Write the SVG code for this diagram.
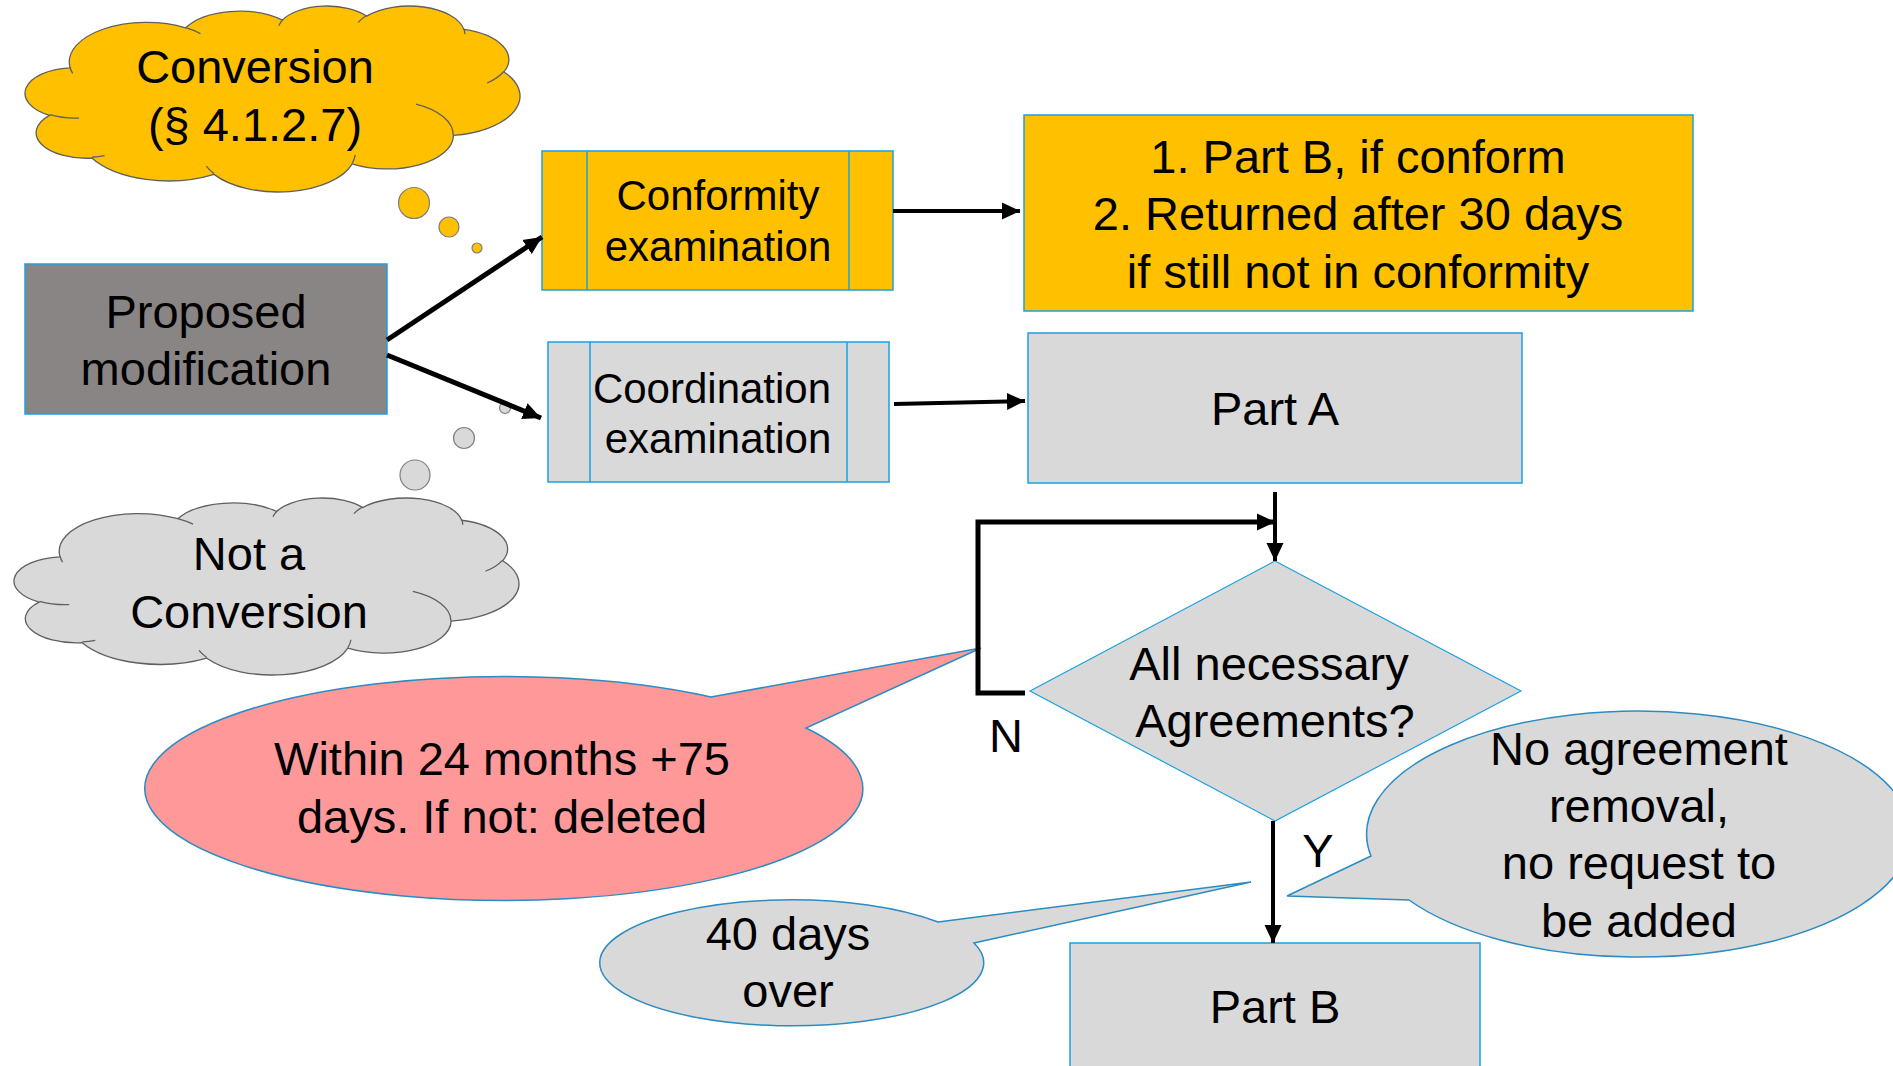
<svg xmlns="http://www.w3.org/2000/svg" width="1893" height="1066" viewBox="0 0 1893 1066">
<defs>
<style>
text{font-family:"Liberation Sans",Arial,sans-serif;fill:#000;text-anchor:middle}
.t47{font-size:47px}
.t42{font-size:42px}
.box{stroke:#1BA1E2;stroke-width:1.5}
.yel{fill:#FFC000}
.gry{fill:#D9D9D9}
.call{stroke:#2B8CC4;stroke-width:1.5}
.cloud{stroke:#5f5f5f;stroke-width:1.3;vector-effect:non-scaling-stroke}
.inner{fill:none;stroke:#5f5f5f;stroke-width:1.3;vector-effect:non-scaling-stroke}
.dot{stroke:#7f7f7f;stroke-width:1.2}
.conn{fill:none;stroke:#000;stroke-linejoin:miter}
</style>
<marker id="ah" markerUnits="userSpaceOnUse" markerWidth="18" markerHeight="18" viewBox="0 0 18 18" refX="18" refY="9" orient="auto">
<path d="M0,0.5 L18,9 L0,17.5 Z" fill="#000"/>
</marker>
</defs>
<rect width="1893" height="1066" fill="#fff"/>

<g id="cloud-conversion">
<g transform="translate(25.389,5.397) scale(0.011444,0.004304)">
<path class="cloud yel" d="M3900,14370 A6753,9190 0 0 1 14004.5,5201.8 A5333,7267 0 0 1 22455.2,3431.8 A4365,5945 0 0 1 29832.3,2480.5 A4857,6595 0 0 1 38318,5574.8 A5333,7273 0 0 1 41818.5,15458.7 A6775,9220 0 0 1 37404.7,30201.9 A5785,7867 0 0 1 28555.9,36811.7 A6752,9215 0 0 1 16480.8,39262.9 A7720,10543 0 0 1 5805.9,35466.1 A4360,5918 0 0 1 2114.4,25544.7 A4345,5945 0 0 1 3864.9,14501.6 Z"/>
<path class="inner" d="M4693,26177 A4345,5945 0 0 1 2159,25380 M6928,34899 A4360,5918 0 0 1 5819,35281 M16478,39090 A6752,9215 0 0 1 15810,37350 M28827,34751 A6752,9215 0 0 1 28560,36661 M34129,22954 A5785,7867 0 0 1 37381,30090 M41798,15354 A5333,7273 0 0 1 40350,18030 M38324,5426 A4857,6595 0 0 1 38400,6690 M29078,3952 A4857,6595 0 0 1 29819,2341 M22141,4720 A4365,5945 0 0 1 22500,3330 M14000,5192 A6753,9190 0 0 1 15300,6540 M4127,15789 A6753,9190 0 0 1 3900,14371"/>
</g>
<circle class="dot yel" cx="414" cy="203" r="15.5"/>
<circle class="dot yel" cx="449" cy="227" r="10"/>
<circle class="dot yel" cx="477" cy="248" r="5"/>
<text class="t47" x="255" y="83">Conversion</text>
<text class="t47" x="255" y="141">(§ 4.1.2.7)</text>
</g>

<g id="cloud-not-conversion">
<g transform="translate(14.397,497.427) scale(0.011675,0.0040957)">
<path class="cloud gry" d="M3900,14370 A6753,9190 0 0 1 14004.5,5201.8 A5333,7267 0 0 1 22455.2,3431.8 A4365,5945 0 0 1 29832.3,2480.5 A4857,6595 0 0 1 38318,5574.8 A5333,7273 0 0 1 41818.5,15458.7 A6775,9220 0 0 1 37404.7,30201.9 A5785,7867 0 0 1 28555.9,36811.7 A6752,9215 0 0 1 16480.8,39262.9 A7720,10543 0 0 1 5805.9,35466.1 A4360,5918 0 0 1 2114.4,25544.7 A4345,5945 0 0 1 3864.9,14501.6 Z"/>
<path class="inner" d="M4693,26177 A4345,5945 0 0 1 2159,25380 M6928,34899 A4360,5918 0 0 1 5819,35281 M16478,39090 A6752,9215 0 0 1 15810,37350 M28827,34751 A6752,9215 0 0 1 28560,36661 M34129,22954 A5785,7867 0 0 1 37381,30090 M41798,15354 A5333,7273 0 0 1 40350,18030 M38324,5426 A4857,6595 0 0 1 38400,6690 M29078,3952 A4857,6595 0 0 1 29819,2341 M22141,4720 A4365,5945 0 0 1 22500,3330 M14000,5192 A6753,9190 0 0 1 15300,6540 M4127,15789 A6753,9190 0 0 1 3900,14371"/>
</g>
<circle class="dot gry" cx="505" cy="408" r="5.5"/>
<circle class="dot gry" cx="464" cy="438" r="10.5"/>
<circle class="dot gry" cx="415" cy="475" r="15"/>
<text class="t47" x="249" y="570">Not a</text>
<text class="t47" x="249" y="628">Conversion</text>
</g>

<g id="proposed">
<rect class="box" x="25" y="264" width="362" height="150" fill="#898584"/>
<text class="t47" x="206" y="328">Proposed</text>
<text class="t47" x="206" y="385">modification</text>
</g>

<g id="conformity">
<rect class="box yel" x="542" y="151" width="351" height="139"/>
<path class="box" d="M587,151 V290 M849,151 V290" fill="none"/>
<text class="t42" x="718" y="210">Conformity</text>
<text class="t42" x="718" y="261">examination</text>
</g>

<g id="coordination">
<rect class="box gry" x="548" y="342" width="341" height="140"/>
<path class="box" d="M590,342 V482 M847,342 V482" fill="none"/>
<text class="t42" x="712" y="403">Coordination</text>
<text class="t42" x="718" y="453">examination</text>
</g>

<g id="part-b-conform">
<rect class="box yel" x="1024" y="115" width="669" height="196"/>
<text class="t47" x="1358" y="173">1. Part B, if conform</text>
<text class="t47" x="1358" y="230">2. Returned after 30 days</text>
<text class="t47" x="1358" y="288">if still not in conformity</text>
</g>

<g id="part-a">
<rect class="box gry" x="1028" y="333" width="494" height="150"/>
<text class="t47" x="1275" y="425">Part A</text>
</g>

<g id="decision">
<path class="box gry" d="M1275,561 L1521,691 L1275,821 L1030,691 Z" style="stroke-width:1.2"/>
<text class="t47" x="1269" y="680">All necessary</text>
<text class="t47" x="1275" y="737">Agreements?</text>
</g>

<g id="part-b">
<rect class="box gry" x="1070" y="943" width="410" height="140"/>
<text class="t47" x="1275" y="1023">Part B</text>
</g>

<g id="callout-deadline">
<path class="call" fill="#FF9999" d="M711,697 L981,648 L806,728 A359,112 0 1 1 711,697 Z"/>
<text class="t47" x="502" y="775">Within 24 months +75</text>
<text class="t47" x="502" y="833">days. If not: deleted</text>
</g>

<g id="callout-40days">
<path class="call gry" d="M938,922 L1251,882 L974,943 A192,63 0 1 1 938,922 Z"/>
<text class="t47" x="788" y="950">40 days</text>
<text class="t47" x="788" y="1007">over</text>
</g>

<g id="callout-no-agreement">
<path class="call gry" d="M1371,856 L1287,896 L1409,900 A272,123 0 1 0 1371,856 Z"/>
<text class="t47" x="1639" y="765">No agreement</text>
<text class="t47" x="1639" y="822">removal,</text>
<text class="t47" x="1639" y="879">no request to</text>
<text class="t47" x="1639" y="937">be added</text>
</g>

<g id="connectors">
<path class="conn" stroke-width="5" d="M387,340 L542,237" marker-end="url(#ah)"/>
<path class="conn" stroke-width="5" d="M387,355 L541,418" marker-end="url(#ah)"/>
<path class="conn" stroke-width="4" d="M893,211 L1020,211" marker-end="url(#ah)"/>
<path class="conn" stroke-width="4" d="M894,404 L1025,401" marker-end="url(#ah)"/>
<path class="conn" stroke-width="4" d="M1275,492 L1275,561" marker-end="url(#ah)"/>
<path class="conn" stroke-width="5" d="M1025,693 L978,693 L978,522 L1275,522" marker-end="url(#ah)"/>
<path class="conn" stroke-width="4" d="M1273,821 L1273,943" marker-end="url(#ah)"/>
<text class="t47" x="1006" y="752">N</text>
<text class="t47" x="1318" y="867">Y</text>
</g>
</svg>
